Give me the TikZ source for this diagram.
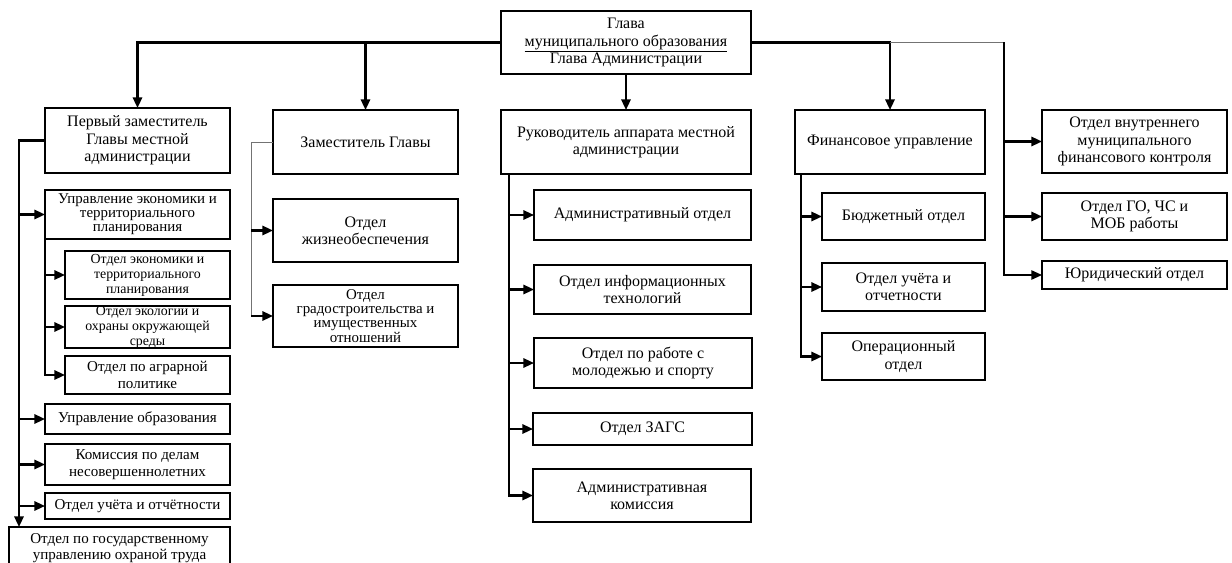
\documentclass[tikz,border=0pt]{standalone}
\usepackage{fontspec}
\setmainfont{Liberation Serif}
\usetikzlibrary{arrows.meta}
\tikzset{
  box/.style={draw, line width=1.5pt, inner sep=0pt, outer sep=0pt, align=center,
    font=\fontsize{12}{13}\selectfont},
  lbox/.style={box, font=\fontsize{11.3}{12.5}\selectfont},
  mbox/.style={box, font=\fontsize{11.2}{10.6}\selectfont},
  sbox/.style={box, font=\fontsize{10.4}{11.2}\selectfont},
  link/.style={line width=1.6pt},
  arr/.style={link, -{Triangle[length=8pt,width=7pt]}},
  thinlink/.style={line width=0.7pt, black!55},
}
% [style]{name}{x1}{y1}{x2}{y2}{text}, coordinates in reference pixels
\newcommand{\mybox}[7][box]{%
  \pgfmathsetmacro\myboxw{(#5-#3)*0.75}%
  \pgfmathsetmacro\myboxh{(#6-#4)*0.75}%
  \node[#1, minimum width=\myboxw pt, minimum height=\myboxh pt] (#2)
    at ({(#3+#5)/2},{(#4+#6)/2}) {#7};}
\begin{document}
\begin{tikzpicture}[x=0.75pt, y=-0.75pt]
\useasboundingbox[fill=white] (0,0) rectangle (1232,563);
\clip (0,0) rectangle (1232,563);
% level 0
\mybox{top}{501}{11}{751}{74}{Глава\\\underline{муниципального образования}\\Глава Администрации}
% level 1
\mybox{p1}{45}{108}{230}{173}{Первый заместитель\\Главы местной\\администрации}
\mybox{z1}{273}{110}{458}{174}{Заместитель Главы}
\mybox{ruk}{501}{110}{751}{174}{Руководитель аппарата местной\\администрации}
\mybox{fin}{795}{110}{985}{174}{Финансовое управление}
\mybox{vnk}{1042}{110}{1227}{173}{Отдел внутреннего\\муниципального\\финансового контроля}
\mybox{go}{1042}{193}{1227}{240}{Отдел ГО, ЧС и\\МОБ работы}
\mybox{yur}{1042}{261}{1227}{289}{Юридический отдел}
% finance
\mybox{bud}{822}{193}{985}{240}{Бюджетный отдел}
\mybox{uch2}{822}{263}{985}{311}{Отдел учёта и\\отчетности}
\mybox{oper}{822}{333}{985}{380}{Операционный\\отдел}
% apparatus
\mybox{adm}{534}{190}{751}{240}{Административный отдел}
\mybox{it}{534}{265}{751}{314}{Отдел информационных\\технологий}
\mybox{mol}{534}{338}{752}{388}{Отдел по работе с\\молодежью и спорту}
\mybox{zags}{533}{413}{752}{445}{Отдел ЗАГС}
\mybox{kom}{533}{469}{751}{522}{Административная\\комиссия}
% deputy
\mybox{zh}{273}{199}{458}{262}{Отдел\\жизнеобеспечения}
\mybox[mbox]{grad}{273}{285}{458}{347}{Отдел\\градостроительства и\\имущественных\\отношений}
% first deputy
\mybox[mbox]{ue}{45}{190}{230}{239}{Управление экономики и\\территориального\\планирования}
\mybox[sbox]{oe}{65}{251}{230}{299}{Отдел экономики и\\территориального\\планирования}
\mybox[sbox]{oeko}{65}{306}{230}{348}{Отдел экологии и\\охраны окружающей\\среды}
\mybox[lbox]{agr}{65}{356}{230}{394}{Отдел по аграрной\\политике}
\mybox[lbox]{obr}{45}{404}{230}{434}{Управление образования}
\mybox[lbox]{kdn}{45}{444}{230}{485}{Комиссия по делам\\несовершеннолетних}
\mybox[lbox]{uch1}{45}{493}{230}{519}{Отдел учёта и отчётности}
\mybox[lbox]{ohr}{9}{527}{230}{569}{Отдел по государственному\\управлению охраной труда}
% trunk coordinates
\coordinate (pv) at (19,0);
\coordinate (zv) at (251,0);
\coordinate (rv2) at (509,0);
\coordinate (fv) at (801,0);
\coordinate (rv) at (1004,0);
% top connectors
\draw[arr] (top.west) -| (p1.north);
\draw[arr] (top.west) -| (z1.north);
\draw[arr] (top.east) -| (fin.north);
\draw[arr] (top.south) -- (ruk.north);
\draw[thinlink] (top.east -| fin.north) -- (rv |- top.east);
% right column
\draw[arr, line width=1.2pt] (rv |- top.east) |- (yur.west);
\draw[arr] (rv |- vnk.west) -- (vnk.west);
\draw[arr] (rv |- go.west) -- (go.west);
% finance
\draw[arr] (fv |- fin.south) |- (oper.west);
\draw[arr] (fv |- bud.west) -- (bud.west);
\draw[arr] (fv |- uch2.west) -- (uch2.west);
% apparatus
\draw[arr] (rv2 |- ruk.south) |- (kom.west);
\draw[arr] (rv2 |- adm.west) -- (adm.west);
\draw[arr] (rv2 |- it.west) -- (it.west);
\draw[arr] (rv2 |- mol.west) -- (mol.west);
\draw[arr] (rv2 |- zags.west) -- (zags.west);
% deputy
\draw[thinlink] (z1.west) -| (zv |- grad.west);
\draw[arr] (zv |- zh.west) -- (zh.west);
\draw[arr] (zv |- grad.west) -- (grad.west);
% first deputy
\draw[arr] (p1.west) -| (pv |- ohr.north);
\draw[arr] (pv |- ue.west) -- (ue.west);
\draw[arr] (pv |- obr.west) -- (obr.west);
\draw[arr] (pv |- kdn.west) -- (kdn.west);
\draw[arr] (pv |- uch1.west) -- (uch1.west);
\draw[arr] (ue.south west) |- (agr.west);
\draw[arr] (ue.south west |- oe.west) -- (oe.west);
\draw[arr] (ue.south west |- oeko.west) -- (oeko.west);
\end{tikzpicture}
\end{document}
